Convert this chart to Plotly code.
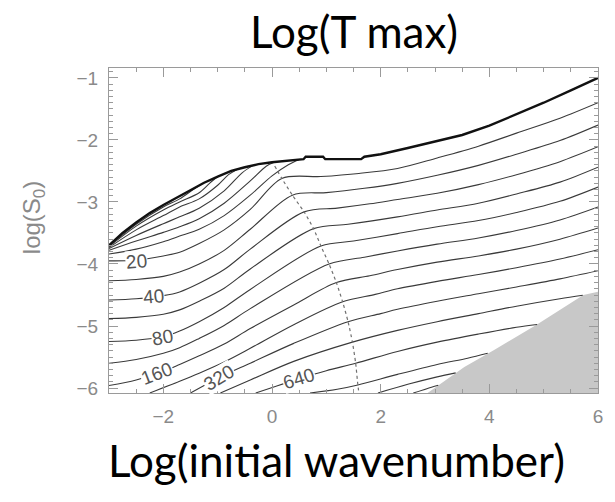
import plotly.graph_objects as go

# ---------------------------------------------------------------- axes
X_RANGE = [-3.0, 6.0]
Y_RANGE = [-6.08, -0.84]
x_tick_vals = [-2, 0, 2, 4, 6]
y_tick_vals = [-6, -5, -4, -3, -2, -1]

# ---------------------------------------------------------------- data
# upper edge of the computed region (outermost contour)
edge = [(-3.0, -3.70), (-2.75, -3.50), (-2.5, -3.33), (-2.25, -3.18), (-2.0, -3.05),
        (-1.75, -2.93), (-1.5, -2.81), (-1.25, -2.69), (-1.0, -2.59), (-0.75, -2.50),
        (-0.5, -2.44), (-0.25, -2.39), (0.0, -2.36), (0.3, -2.33), (0.58, -2.31),
        (0.62, -2.27), (0.94, -2.27), (0.98, -2.31), (1.64, -2.31), (1.70, -2.27),
        (2.0, -2.23), (2.5, -2.13), (3.0, -2.02), (3.5, -1.92), (4.0, -1.77),
        (4.5, -1.59), (5.0, -1.40), (5.5, -1.20), (6.0, -1.00)]

# low levels that run into the upper edge
lvl_a = [(-3.0, -3.71), (-2.5, -3.36), (-2.0, -3.08), (-1.7, -2.95), (-1.45, -2.80), (-1.3, -2.715)]
lvl_b = [(-3.0, -3.72), (-2.5, -3.39), (-2.0, -3.13), (-1.7, -3.00), (-1.34, -2.85), (-1.15, -2.70), (-1.0, -2.59)]
lvl_c = [(-3.0, -3.735), (-2.5, -3.45), (-2.0, -3.22), (-1.7, -3.08), (-1.34, -2.95), (-1.0, -2.73), (-0.8, -2.56), (-0.65, -2.48)]
lvl_d = [(-3.0, -3.75), (-2.5, -3.54), (-2.0, -3.35), (-1.7, -3.24), (-1.34, -3.10), (-0.88, -2.82), (-0.55, -2.53), (-0.35, -2.41)]
lvl_e = [(-3.0, -3.78), (-2.5, -3.63), (-2.0, -3.49), (-1.7, -3.40), (-1.34, -3.27), (-0.88, -3.02), (-0.4, -2.66), (-0.1, -2.42), (0.05, -2.355)]
lvl_f = [(-3.0, -3.84), (-2.5, -3.76), (-2.0, -3.64), (-1.7, -3.55), (-1.34, -3.44), (-0.88, -3.22), (-0.4, -2.89), (0.0, -2.58), (0.3, -2.40), (0.5, -2.315)]

# levels crossing the panel
lvl_20 = [(-3.0, -3.95), (-2.5, -3.94), (-2.0, -3.87), (-1.7, -3.81), (-1.34, -3.67), (-0.88, -3.45),
          (-0.4, -3.12), (0.18, -2.62), (0.9, -2.59), (1.6, -2.54), (2.31, -2.46), (3.04, -2.29),
          (3.8, -2.10), (4.5, -1.89), (5.3, -1.65), (6.0, -1.40)]
lvl_28 = [(-3.0, -4.27), (-2.5, -4.25), (-2.0, -4.20), (-1.7, -4.13), (-1.34, -4.00), (-0.88, -3.78),
          (-0.4, -3.44), (0.375, -2.89), (1.0, -2.85), (1.7, -2.78), (2.31, -2.70), (3.04, -2.57),
          (3.8, -2.41), (4.5, -2.23), (5.3, -2.01), (6.0, -1.76)]
lvl_40 = [(-3.0, -4.58), (-2.5, -4.56), (-2.0, -4.51), (-1.7, -4.45), (-1.34, -4.31), (-0.88, -4.09),
          (-0.4, -3.76), (0.59, -3.16), (1.2, -3.10), (1.8, -3.03), (2.31, -2.96), (3.04, -2.86),
          (3.8, -2.72), (4.5, -2.56), (5.3, -2.35), (6.0, -2.11)]
lvl_57 = [(-3.0, -4.88), (-2.5, -4.86), (-2.0, -4.81), (-1.7, -4.74), (-1.34, -4.60), (-0.88, -4.39),
          (-0.4, -4.08), (0.765, -3.43), (1.4, -3.36), (2.31, -3.24), (3.04, -3.13), (3.8, -3.02),
          (4.5, -2.87), (5.3, -2.68), (6.0, -2.44)]
lvl_80 = [(-3.0, -5.25), (-2.5, -5.23), (-2.0, -5.17), (-1.7, -5.08), (-1.34, -4.93), (-0.88, -4.70),
          (-0.4, -4.41), (0.90, -3.71), (1.5, -3.63), (2.31, -3.51), (3.04, -3.40), (3.8, -3.30),
          (4.5, -3.17), (5.3, -2.99), (6.0, -2.76)]
lvl_113 = [(-3.0, -5.60), (-2.5, -5.54), (-2.0, -5.44), (-1.7, -5.35), (-1.34, -5.20), (-0.88, -4.99),
           (-0.4, -4.72), (1.05, -4.00), (1.7, -3.89), (2.31, -3.79), (3.04, -3.68), (3.8, -3.58),
           (4.5, -3.46), (5.3, -3.29), (6.0, -3.08)]
lvl_160 = [(-3.0, -5.96), (-2.5, -5.87), (-2.0, -5.73), (-1.7, -5.62), (-1.34, -5.48), (-0.88, -5.29),
           (-0.4, -5.04), (0.4, -4.66), (1.185, -4.30), (1.8, -4.19), (2.31, -4.09), (3.04, -3.97),
           (3.8, -3.87), (4.5, -3.76), (5.3, -3.60), (6.0, -3.42)]
lvl_226 = [(-2.25, -6.08), (-1.7, -5.89), (-1.34, -5.76), (-0.88, -5.58), (-0.4, -5.36), (0.4, -4.98),
           (1.30, -4.61), (1.9, -4.49), (2.31, -4.40), (3.04, -4.28), (3.8, -4.17), (4.5, -4.06),
           (5.3, -3.92), (6.0, -3.77)]
lvl_320 = [(-1.5, -6.08), (-0.97, -5.83), (-0.4, -5.60), (0.4, -5.28), (1.40, -4.93), (2.0, -4.80),
           (2.31, -4.73), (3.04, -4.60), (3.8, -4.48), (4.5, -4.37), (5.3, -4.24), (6.0, -4.11)]
lvl_453 = [(-0.95, -6.08), (-0.4, -5.87), (0.4, -5.57), (1.48, -5.26), (2.31, -5.07), (3.04, -4.93),
           (3.8, -4.80), (4.5, -4.68), (5.3, -4.56), (5.72, -4.505)]
lvl_640 = [(-0.3, -6.08), (0.5, -5.85), (1.0, -5.72), (1.54, -5.60), (2.31, -5.41), (3.04, -5.26),
           (3.8, -5.13), (4.5, -5.02), (4.88, -4.975)]
lvl_905 = [(0.7, -6.08), (1.2, -6.02), (1.58, -5.95), (2.31, -5.78), (3.04, -5.62), (3.6, -5.52),
           (3.97, -5.44)]
lvl_1280 = [(1.95, -6.08), (2.5, -5.94), (3.04, -5.82), (3.38, -5.755)]
lvl_1810 = [(2.6, -6.08), (2.85, -6.01), (3.06, -5.955)]

# boundary of the excluded (shaded) corner
shade = [(2.67, -6.2), (2.86, -6.08), (3.54, -5.66), (4.08, -5.39), (4.87, -4.98),
         (5.73, -4.50), (6.0, -4.45), (6.1, -4.43), (6.1, -6.2)]

# dotted ridge curve
ridge = [(0.05, -2.42), (0.18, -2.62), (0.375, -2.89), (0.59, -3.16), (0.765, -3.43), (0.90, -3.71),
         (1.05, -4.00), (1.185, -4.30), (1.30, -4.61), (1.40, -4.93), (1.48, -5.26), (1.54, -5.60),
         (1.58, -5.95), (1.60, -6.08)]

# contour labels
label_text = ["20", "40", "80", "160", "320", "640"]
label_x = [-2.5, -2.19, -2.02, -2.12, -0.97, 0.5]
label_y = [-3.96, -4.52, -5.18, -5.77, -5.83, -5.85]
label_angle = [-5, -5, -10, -21, -31, -17]

# ---------------------------------------------------------------- figure
LINE_COLOR = "#3a3a3a"
AXIS_COLOR = "#9a9a9a"
TICK_FONT = dict(family="Liberation Sans", size=19, color="#8a8a8a")

fig = go.Figure()


def xs(pts):
    return [p[0] for p in pts]


def ys(pts):
    return [p[1] for p in pts]


fig.add_trace(go.Scatter(x=xs(shade), y=ys(shade), mode="lines", fill="toself",
                         fillcolor="#c8c8c8", line=dict(width=0), hoverinfo="skip"))

levels = [lvl_a, lvl_b, lvl_c, lvl_d, lvl_e, lvl_f,
          lvl_20, lvl_28, lvl_40, lvl_57, lvl_80, lvl_113, lvl_160, lvl_226,
          lvl_320, lvl_453, lvl_640, lvl_905, lvl_1280, lvl_1810]
for pts in levels:
    fig.add_trace(go.Scatter(x=xs(pts), y=ys(pts), mode="lines",
                             line=dict(color=LINE_COLOR, width=1.1, shape="spline", smoothing=0.9),
                             hoverinfo="skip"))

fig.add_trace(go.Scatter(x=xs(ridge), y=ys(ridge), mode="lines",
                         line=dict(color="#707070", width=1.2, dash="dot", shape="spline", smoothing=0.6),
                         hoverinfo="skip"))

fig.add_trace(go.Scatter(x=xs(edge), y=ys(edge), mode="lines",
                         line=dict(color="#111111", width=2.4), hoverinfo="skip"))

for t, lx, ly, ang in zip(label_text, label_x, label_y, label_angle):
    fig.add_annotation(x=lx, y=ly, text=t, showarrow=False, textangle=ang,
                       font=dict(family="Liberation Sans", size=19, color="#555555"),
                       bgcolor="white", borderpad=0)

# titles
fig.add_annotation(xref="paper", yref="paper", x=0.5, y=1.115, text="Log(T max)",
                   showarrow=False, xanchor="center", yanchor="middle",
                   font=dict(family="Lato", size=44, color="black"))
fig.add_annotation(xref="paper", yref="paper", x=0.465, y=-0.205, text="Log(initial wavenumber)",
                   showarrow=False, xanchor="center", yanchor="middle",
                   font=dict(family="Lato", size=44, color="black"))
fig.add_annotation(xref="paper", yref="paper", x=-0.154, y=0.54, text="log(S<sub>0</sub>)",
                   showarrow=False, xanchor="center", yanchor="middle", textangle=-90,
                   font=dict(family="Liberation Sans", size=24, color="#8a8a8a"))

axis_common = dict(showgrid=False, zeroline=False, showline=True, linecolor=AXIS_COLOR,
                   linewidth=1, mirror="allticks", ticks="inside", tickcolor=AXIS_COLOR,
                   tickwidth=1, tickfont=TICK_FONT)

fig.update_xaxes(range=X_RANGE, tickmode="array", tickvals=x_tick_vals, ticklen=9,
                 minor=dict(tick0=0, dtick=0.5, ticklen=4, ticks="inside", tickcolor=AXIS_COLOR),
                 ticklabelstandoff=6, **axis_common)
fig.update_yaxes(range=Y_RANGE, tickmode="array", tickvals=y_tick_vals, ticklen=9,
                 minor=dict(tick0=0, dtick=0.1, ticklen=4, ticks="inside", tickcolor=AXIS_COLOR),
                 ticklabelstandoff=6, **axis_common)

fig.update_layout(width=615, height=502, margin=dict(l=109, r=13, t=68, b=109),
                  paper_bgcolor="white", plot_bgcolor="white", showlegend=False)

fig.write_html("out.html")
